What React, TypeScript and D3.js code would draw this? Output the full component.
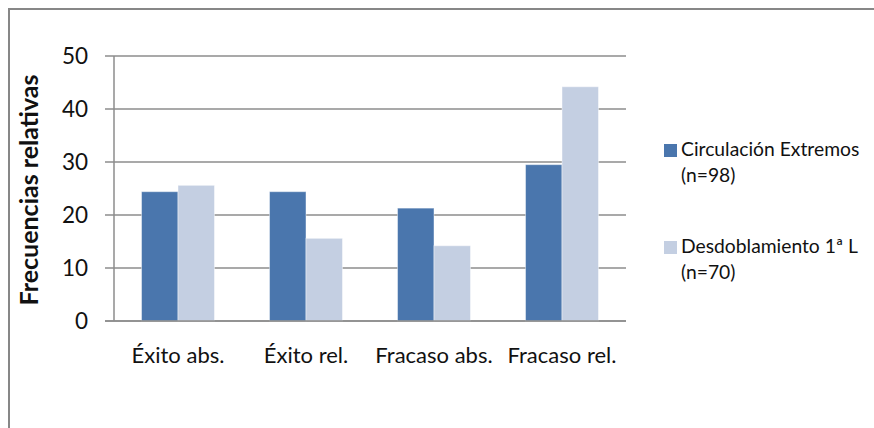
import React from "react";
import * as d3 from "d3";

const categories = ["Éxito abs.", "Éxito rel.", "Fracaso abs.", "Fracaso rel."];
const seriesNames = ["Circulación Extremos", "Desdoblamiento 1ª L"];
const seriesSub = ["(n=98)", "(n=70)"];
const circulacion = [24.4, 24.4, 21.3, 29.5];
const desdoblamiento = [25.6, 15.6, 14.2, 44.2];
const yTicks = [0, 10, 20, 30, 40, 50];
const colors = ["#4A76AD", "#C4CFE2"];

const W = 874;
const H = 428;
const FONT = "Lato, 'Open Sans', sans-serif";

export default function App() {
  const left = 114;
  const right = 626;
  const top = 56;
  const bottom = 321;
  const x = d3.scaleBand<string>().domain(categories).range([left, right]).paddingInner(0.43).paddingOuter(0.215);
  const xs = d3.scaleBand<number>().domain([0, 1]).range([0, x.bandwidth()]);
  const y = d3.scaleLinear().domain([0, 50]).range([bottom, top]);
  const series = [circulacion, desdoblamiento];

  return (
    <svg width={W} height={H} style={{ position: "absolute", left: 0, top: 0, background: "#fff" }} fontFamily={FONT}>
      <rect x={9} y={9} width={900} height={460} fill="#fff" stroke="#878787" strokeWidth={2} />
      {yTicks.map((t) => (
        <g key={t}>
          <line x1={left - 9} x2={right} y1={y(t)} y2={y(t)} stroke="#8C8C8C" strokeWidth={1.5} />
          <text x={88} y={y(t)} dy="0.36em" textAnchor="end" fontSize={22.5} fill="#111">{t}</text>
        </g>
      ))}
      {series.map((vals, si) =>
        vals.map((v, ci) => (
          <rect
            key={`${si}-${ci}`}
            x={(x(categories[ci]) as number) + (xs(si) as number)}
            y={y(v)}
            width={xs.bandwidth()}
            height={y(0) - y(v)}
            fill={colors[si]}
            stroke="rgba(255,255,255,0.45)"
            strokeWidth={1}
          />
        ))
      )}
      <line x1={left} x2={left} y1={top} y2={bottom} stroke="#8C8C8C" strokeWidth={1.5} />
      <line x1={left - 9} x2={right} y1={bottom} y2={bottom} stroke="#8C8C8C" strokeWidth={1.5} />
      {categories.map((c) => (
        <text key={c} x={(x(c) as number) + x.bandwidth() / 2} y={363} textAnchor="middle" fontSize={22} fill="#111">{c}</text>
      ))}
      <text transform={`translate(38,${190}) rotate(-90)`} textAnchor="middle" fontSize={25} fontWeight="bold" fill="#111">Frecuencias relativas</text>
      {seriesNames.map((n, i) => (
        <g key={n}>
          <rect x={664} y={144 + i * 97} width={13} height={13} fill={colors[i]} />
          <text x={681} y={156 + i * 97} fontSize={19.3} fill="#111">{n}</text>
          <text x={681} y={182 + i * 97} fontSize={19.3} fill="#111">{seriesSub[i]}</text>
        </g>
      ))}
    </svg>
  );
}
